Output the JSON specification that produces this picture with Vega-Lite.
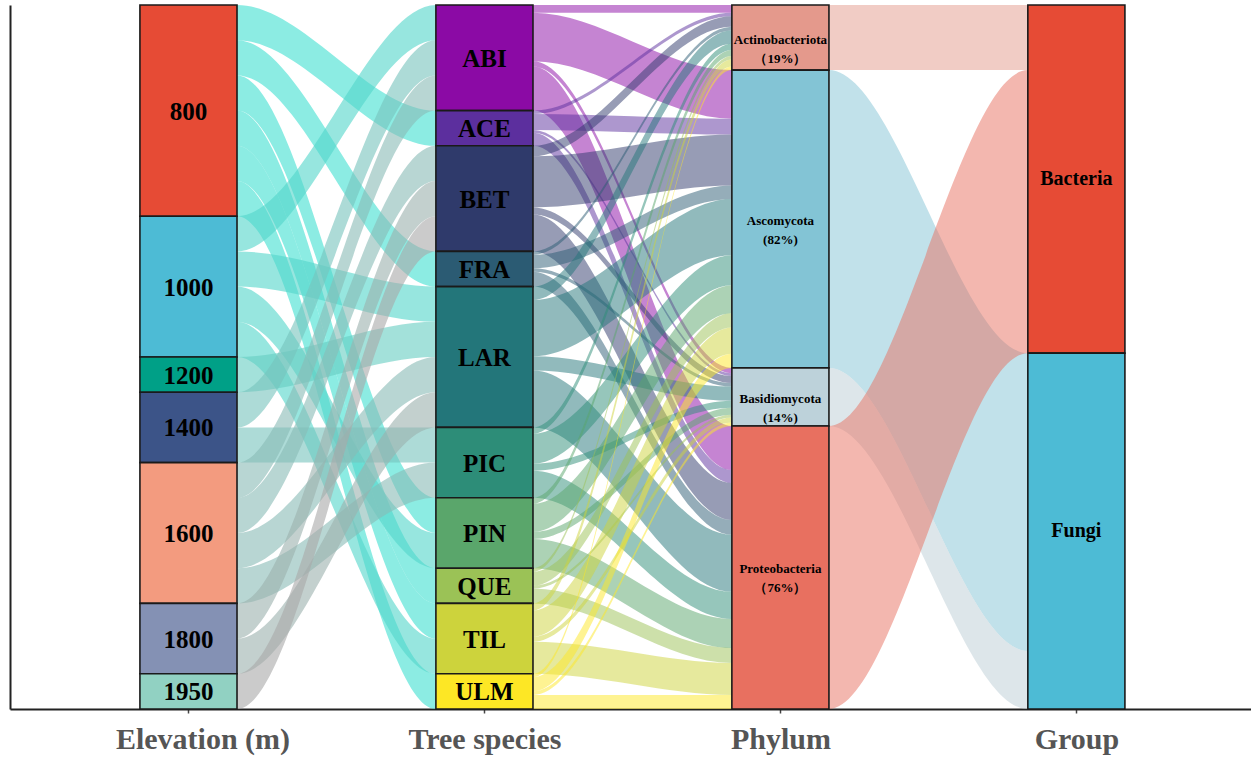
{
  "$schema": "https://vega.github.io/schema/vega-lite/v6.json",
  "width": 1241,
  "height": 704,
  "autosize": {"type": "none"},
  "padding": {"left": 10, "top": 5, "right": 0, "bottom": 52},
  "background": "white",
  "config": {"view": {"stroke": null}},
  "params": [{"name": "hw", "value": 0.164}],
  "datasets": {
    "strata": [
      {"axis": 1, "k": 1, "stratum": "800", "n": 6},
      {"axis": 1, "k": 2, "stratum": "1000", "n": 4},
      {"axis": 1, "k": 3, "stratum": "1200", "n": 1},
      {"axis": 1, "k": 4, "stratum": "1400", "n": 2},
      {"axis": 1, "k": 5, "stratum": "1600", "n": 4},
      {"axis": 1, "k": 6, "stratum": "1800", "n": 2},
      {"axis": 1, "k": 7, "stratum": "1950", "n": 1},
      {"axis": 2, "k": 1, "stratum": "ABI", "n": 3},
      {"axis": 2, "k": 2, "stratum": "ACE", "n": 1},
      {"axis": 2, "k": 3, "stratum": "BET", "n": 3},
      {"axis": 2, "k": 4, "stratum": "FRA", "n": 1},
      {"axis": 2, "k": 5, "stratum": "LAR", "n": 4},
      {"axis": 2, "k": 6, "stratum": "PIC", "n": 2},
      {"axis": 2, "k": 7, "stratum": "PIN", "n": 2},
      {"axis": 2, "k": 8, "stratum": "QUE", "n": 1},
      {"axis": 2, "k": 9, "stratum": "TIL", "n": 2},
      {"axis": 2, "k": 10, "stratum": "ULM", "n": 1},
      {"axis": 3, "k": 1, "stratum": "Actinobacteriota", "n": 1.85, "lab": "Actinobacteriota\n（19%）"},
      {"axis": 3, "k": 2, "stratum": "Ascomycota", "n": 8.46, "lab": "Ascomycota\n(82%)"},
      {"axis": 3, "k": 3, "stratum": "Basidiomycota", "n": 1.65, "lab": "Basidiomycota\n(14%)"},
      {"axis": 3, "k": 4, "stratum": "Proteobacteria", "n": 8.04, "lab": "Proteobacteria\n（76%）"},
      {"axis": 4, "k": 1, "stratum": "Bacteria", "n": 9.89},
      {"axis": 4, "k": 2, "stratum": "Fungi", "n": 10.11}
    ],
    "flows": [
      {"s": 1, "src": "800", "dst": "ACE", "sr": 1, "dr": 2, "n": 1},
      {"s": 1, "src": "800", "dst": "FRA", "sr": 1, "dr": 4, "n": 1},
      {"s": 1, "src": "800", "dst": "PIN", "sr": 1, "dr": 7, "n": 1},
      {"s": 1, "src": "800", "dst": "QUE", "sr": 1, "dr": 8, "n": 1},
      {"s": 1, "src": "800", "dst": "TIL", "sr": 1, "dr": 9, "n": 1},
      {"s": 1, "src": "800", "dst": "ULM", "sr": 1, "dr": 10, "n": 1},
      {"s": 1, "src": "1000", "dst": "ABI", "sr": 2, "dr": 1, "n": 1},
      {"s": 1, "src": "1000", "dst": "LAR", "sr": 2, "dr": 5, "n": 1},
      {"s": 1, "src": "1000", "dst": "PIN", "sr": 2, "dr": 7, "n": 1},
      {"s": 1, "src": "1000", "dst": "TIL", "sr": 2, "dr": 9, "n": 1},
      {"s": 1, "src": "1200", "dst": "LAR", "sr": 3, "dr": 5, "n": 1},
      {"s": 1, "src": "1400", "dst": "ABI", "sr": 4, "dr": 1, "n": 1},
      {"s": 1, "src": "1400", "dst": "PIC", "sr": 4, "dr": 6, "n": 1},
      {"s": 1, "src": "1600", "dst": "ABI", "sr": 5, "dr": 1, "n": 1},
      {"s": 1, "src": "1600", "dst": "BET", "sr": 5, "dr": 3, "n": 1},
      {"s": 1, "src": "1600", "dst": "LAR", "sr": 5, "dr": 5, "n": 1},
      {"s": 1, "src": "1600", "dst": "PIC", "sr": 5, "dr": 6, "n": 1},
      {"s": 1, "src": "1800", "dst": "BET", "sr": 6, "dr": 3, "n": 1},
      {"s": 1, "src": "1800", "dst": "LAR", "sr": 6, "dr": 5, "n": 1},
      {"s": 1, "src": "1950", "dst": "BET", "sr": 7, "dr": 3, "n": 1},

      {"s": 2, "src": "ABI", "dst": "Actinobacteriota", "sr": 1, "dr": 1, "n": 0.22},
      {"s": 2, "src": "ABI", "dst": "Ascomycota", "sr": 1, "dr": 2, "n": 1.38},
      {"s": 2, "src": "ABI", "dst": "Basidiomycota", "sr": 1, "dr": 3, "n": 0.15},
      {"s": 2, "src": "ABI", "dst": "Proteobacteria", "sr": 1, "dr": 4, "n": 1.25},
      {"s": 2, "src": "ACE", "dst": "Actinobacteriota", "sr": 2, "dr": 1, "n": 0.1},
      {"s": 2, "src": "ACE", "dst": "Ascomycota", "sr": 2, "dr": 2, "n": 0.45},
      {"s": 2, "src": "ACE", "dst": "Basidiomycota", "sr": 2, "dr": 3, "n": 0.08},
      {"s": 2, "src": "ACE", "dst": "Proteobacteria", "sr": 2, "dr": 4, "n": 0.37},
      {"s": 2, "src": "BET", "dst": "Actinobacteriota", "sr": 3, "dr": 1, "n": 0.3},
      {"s": 2, "src": "BET", "dst": "Ascomycota", "sr": 3, "dr": 2, "n": 1.45},
      {"s": 2, "src": "BET", "dst": "Basidiomycota", "sr": 3, "dr": 3, "n": 0.2},
      {"s": 2, "src": "BET", "dst": "Proteobacteria", "sr": 3, "dr": 4, "n": 1.05},
      {"s": 2, "src": "FRA", "dst": "Actinobacteriota", "sr": 4, "dr": 1, "n": 0.1},
      {"s": 2, "src": "FRA", "dst": "Ascomycota", "sr": 4, "dr": 2, "n": 0.38},
      {"s": 2, "src": "FRA", "dst": "Basidiomycota", "sr": 4, "dr": 3, "n": 0.1},
      {"s": 2, "src": "FRA", "dst": "Proteobacteria", "sr": 4, "dr": 4, "n": 0.42},
      {"s": 2, "src": "LAR", "dst": "Actinobacteriota", "sr": 5, "dr": 1, "n": 0.38},
      {"s": 2, "src": "LAR", "dst": "Ascomycota", "sr": 5, "dr": 2, "n": 1.6},
      {"s": 2, "src": "LAR", "dst": "Basidiomycota", "sr": 5, "dr": 3, "n": 0.4},
      {"s": 2, "src": "LAR", "dst": "Proteobacteria", "sr": 5, "dr": 4, "n": 1.62},
      {"s": 2, "src": "PIC", "dst": "Actinobacteriota", "sr": 6, "dr": 1, "n": 0.18},
      {"s": 2, "src": "PIC", "dst": "Ascomycota", "sr": 6, "dr": 2, "n": 0.85},
      {"s": 2, "src": "PIC", "dst": "Basidiomycota", "sr": 6, "dr": 3, "n": 0.2},
      {"s": 2, "src": "PIC", "dst": "Proteobacteria", "sr": 6, "dr": 4, "n": 0.77},
      {"s": 2, "src": "PIN", "dst": "Actinobacteriota", "sr": 7, "dr": 1, "n": 0.17},
      {"s": 2, "src": "PIN", "dst": "Ascomycota", "sr": 7, "dr": 2, "n": 0.8},
      {"s": 2, "src": "PIN", "dst": "Basidiomycota", "sr": 7, "dr": 3, "n": 0.2},
      {"s": 2, "src": "PIN", "dst": "Proteobacteria", "sr": 7, "dr": 4, "n": 0.83},
      {"s": 2, "src": "QUE", "dst": "Actinobacteriota", "sr": 8, "dr": 1, "n": 0.1},
      {"s": 2, "src": "QUE", "dst": "Ascomycota", "sr": 8, "dr": 2, "n": 0.4},
      {"s": 2, "src": "QUE", "dst": "Basidiomycota", "sr": 8, "dr": 3, "n": 0.08},
      {"s": 2, "src": "QUE", "dst": "Proteobacteria", "sr": 8, "dr": 4, "n": 0.42},
      {"s": 2, "src": "TIL", "dst": "Actinobacteriota", "sr": 9, "dr": 1, "n": 0.2},
      {"s": 2, "src": "TIL", "dst": "Ascomycota", "sr": 9, "dr": 2, "n": 0.75},
      {"s": 2, "src": "TIL", "dst": "Basidiomycota", "sr": 9, "dr": 3, "n": 0.14},
      {"s": 2, "src": "TIL", "dst": "Proteobacteria", "sr": 9, "dr": 4, "n": 0.91},
      {"s": 2, "src": "ULM", "dst": "Actinobacteriota", "sr": 10, "dr": 1, "n": 0.1},
      {"s": 2, "src": "ULM", "dst": "Ascomycota", "sr": 10, "dr": 2, "n": 0.4},
      {"s": 2, "src": "ULM", "dst": "Basidiomycota", "sr": 10, "dr": 3, "n": 0.1},
      {"s": 2, "src": "ULM", "dst": "Proteobacteria", "sr": 10, "dr": 4, "n": 0.4},

      {"s": 3, "src": "Actinobacteriota", "dst": "Bacteria", "sr": 1, "dr": 1, "n": 1.85},
      {"s": 3, "src": "Ascomycota", "dst": "Fungi", "sr": 2, "dr": 2, "n": 8.46},
      {"s": 3, "src": "Basidiomycota", "dst": "Fungi", "sr": 3, "dr": 2, "n": 1.65},
      {"s": 3, "src": "Proteobacteria", "dst": "Bacteria", "sr": 4, "dr": 1, "n": 8.04}
    ]
  },
  "layer": [
    {
      "data": {"name": "flows"},
      "transform": [
        {"stack": "n", "groupby": ["s"], "sort": [{"field": "sr"}, {"field": "dr"}], "as": ["a0", "a1"]},
        {"stack": "n", "groupby": ["s"], "sort": [{"field": "dr"}, {"field": "sr"}], "as": ["b0", "b1"]},
        {"calculate": "[0, 1, 2, 3]", "as": "knots"},
        {"flatten": ["knots"], "as": ["k"]},
        {"calculate": "datum.s + (datum.k == 0 ? 0 : datum.k == 1 ? hw : datum.k == 2 ? 1 - hw : 1)", "as": "xx"},
        {"calculate": "datum.k < 2 ? datum.a0 : datum.b0", "as": "yt"},
        {"calculate": "datum.k < 2 ? datum.a1 : datum.b1", "as": "yb"},
        {"calculate": "datum.s + '|' + datum.src + '|' + datum.dst", "as": "fid"},
        {"calculate": "datum.s == 1 ? 0.6 : 0.5", "as": "op"}
      ],
      "mark": {"type": "area", "interpolate": "monotone", "orient": "vertical"},
      "encoding": {
        "x": {
          "field": "xx", "type": "quantitative", "title": null,
          "scale": {"domain": [0.397, 4.59], "nice": false, "zero": false},
          "axis": {
            "values": [1, 2, 3, 4],
            "labelExpr": "datum.value == 1 ? 'Elevation (m)' : datum.value == 2 ? 'Tree species' : datum.value == 3 ? 'Phylum' : 'Group'",
            "grid": false,
            "domainColor": "#222222", "domainWidth": 2,
            "ticks": true, "tickSize": 4, "tickColor": "#444444", "tickWidth": 1.5,
            "labelFont": "Liberation Serif", "labelFontWeight": "bold", "labelFontSize": 30,
            "labelColor": "#555555", "labelBaseline": "alphabetic", "labelPadding": 35,
            "labelOffset": {"condition": {"test": "datum.value == 1", "value": 14}, "value": 0},
            "labelFlush": false, "labelOverlap": false
          }
        },
        "y": {
          "field": "yt", "type": "quantitative", "title": null, "stack": null,
          "scale": {"domain": [0, 20], "reverse": true, "nice": false, "zero": false},
          "axis": {"labels": false, "ticks": false, "grid": false, "domainColor": "#222222", "domainWidth": 2}
        },
        "y2": {"field": "yb"},
        "detail": {"field": "fid", "type": "nominal"},
        "color": {
          "field": "src", "type": "nominal", "legend": null,
          "scale": {
            "domain": ["800", "1000", "1200", "1400", "1600", "1800", "1950",
                       "ABI", "ACE", "BET", "FRA", "LAR", "PIC", "PIN", "QUE", "TIL", "ULM",
                       "Actinobacteriota", "Ascomycota", "Basidiomycota", "Proteobacteria"],
            "range": ["#40e0d0", "#52d6c9", "#65cdc2", "#77c3bc", "#89bab5", "#9bb0ae", "#a9a9a9",
                      "#8b0aa5", "#5c2f9e", "#2f3a6b", "#2b5b73", "#23767a", "#2d8d78", "#5aa66b", "#9bc256", "#cdd33c", "#fde725",
                      "#e4998c", "#83c4d5", "#bbcdd5", "#e87060"]
          }
        },
        "opacity": {"field": "op", "type": "quantitative", "scale": null, "legend": null}
      }
    },
    {
      "data": {"name": "strata"},
      "transform": [
        {"stack": "n", "groupby": ["axis"], "sort": [{"field": "k"}], "as": ["y0", "y1"]},
        {"calculate": "datum.axis - hw", "as": "xl"},
        {"calculate": "datum.axis + hw", "as": "xr"}
      ],
      "mark": {"type": "rect", "stroke": "#1a1a1a", "strokeWidth": 1.6},
      "encoding": {
        "x": {"field": "xl", "type": "quantitative", "title": null},
        "x2": {"field": "xr"},
        "y": {"field": "y0", "type": "quantitative", "title": null},
        "y2": {"field": "y1"},
        "fill": {
          "field": "stratum", "type": "nominal", "legend": null,
          "scale": {
            "domain": ["800", "1000", "1200", "1400", "1600", "1800", "1950",
                       "ABI", "ACE", "BET", "FRA", "LAR", "PIC", "PIN", "QUE", "TIL", "ULM",
                       "Actinobacteriota", "Ascomycota", "Basidiomycota", "Proteobacteria",
                       "Bacteria", "Fungi"],
            "range": ["#e64b35", "#4dbbd5", "#00a087", "#3c5488", "#f39b7f", "#8491b4", "#91d1c2",
                      "#8b0aa5", "#5c2f9e", "#2f3a6b", "#2b5b73", "#23767a", "#2d8d78", "#5aa66b", "#9bc256", "#cdd33c", "#fde725",
                      "#e4998c", "#83c4d5", "#bdd2da", "#e87060",
                      "#e64b35", "#4dbbd5"]
          }
        }
      }
    },
    {
      "data": {"name": "strata"},
      "transform": [
        {"stack": "n", "groupby": ["axis"], "sort": [{"field": "k"}], "as": ["y0", "y1"]},
        {"calculate": "(datum.y0 + datum.y1) / 2", "as": "ym"},
        {"filter": "datum.axis <= 2"}
      ],
      "mark": {"type": "text", "font": "Liberation Serif", "fontWeight": "bold", "fontSize": 25, "color": "#000000", "baseline": "middle", "align": "center", "dy": 1},
      "encoding": {
        "x": {"field": "axis", "type": "quantitative", "title": null},
        "y": {"field": "ym", "type": "quantitative", "title": null},
        "text": {"field": "stratum"}
      }
    },
    {
      "data": {"name": "strata"},
      "transform": [
        {"stack": "n", "groupby": ["axis"], "sort": [{"field": "k"}], "as": ["y0", "y1"]},
        {"calculate": "(datum.y0 + datum.y1) / 2", "as": "ym"},
        {"filter": "datum.axis == 4"}
      ],
      "mark": {"type": "text", "font": "Liberation Serif", "fontWeight": "bold", "fontSize": 20, "color": "#000000", "baseline": "middle", "align": "center"},
      "encoding": {
        "x": {"field": "axis", "type": "quantitative", "title": null},
        "y": {"field": "ym", "type": "quantitative", "title": null},
        "text": {"field": "stratum"}
      }
    },
    {
      "data": {"name": "strata"},
      "transform": [
        {"stack": "n", "groupby": ["axis"], "sort": [{"field": "k"}], "as": ["y0", "y1"]},
        {"calculate": "(datum.y0 + datum.y1) / 2", "as": "ym"},
        {"filter": "datum.axis == 3"}
      ],
      "mark": {"type": "text", "font": "Liberation Serif", "fontWeight": "bold", "fontSize": 13, "color": "#000000", "baseline": "middle", "align": "center", "lineBreak": "\n", "lineHeight": 19, "dy": 2},
      "encoding": {
        "x": {"field": "axis", "type": "quantitative", "title": null},
        "y": {"field": "ym", "type": "quantitative", "title": null},
        "text": {"field": "lab"}
      }
    }
  ]
}
